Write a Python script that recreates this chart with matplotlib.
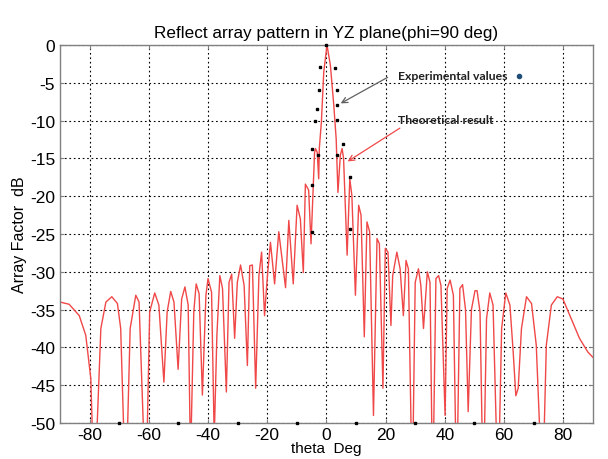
import numpy as np
import matplotlib
matplotlib.use('Agg')
import matplotlib.pyplot as plt

plt.rcParams['font.family'] = ['Liberation Sans', 'DejaVu Sans']
plt.rcParams['axes.unicode_minus'] = False

# theoretical array factor, vertices (deg, dB)
# nulls that fall below the axis are given -60 so they clip at -50
theta = [-90, -86.9, -83.5, -81.3, -79.6, -78.4, -76.2, -74.5, -72.5, -70.6,
         -69.5, -67.8, -66.3, -64.4, -63.3, -61.0, -59.7, -58.0, -56.6, -54.9,
         -53.8, -52.6, -51.5, -50.1, -48.9, -47.8, -46.7, -45.9, -44.8, -44.0,
         -43.0, -41.9, -40.7, -40.0, -38.8, -37.9, -37.0, -36.0, -35.1, -33.8,
         -32.9, -32.0, -31.0, -30.1, -29.0, -27.8, -26.7, -25.9, -25.0, -23.9,
         -22.8, -21.9, -20.9, -20.0, -18.9, -17.5, -16.1, -13.8, -12.7, -11.2,
         -9.9, -8.8, -7.8, -7.1, -6.0, -5.2, -4.0, -3.7, -3.1, -2.6,
         -2.4, -1.7, -0.9, 0.2, 1.35, 2.5, 3.3, 3.9, 4.7, 5.3,
         5.8, 7.0, 7.9, 8.6, 9.8, 10.9, 11.7, 12.8, 13.7, 14.6,
         15.9, 17.1, 17.9, 19.1, 19.9, 20.8, 21.8, 22.4, 23.8, 24.9,
         26.0, 26.9, 27.7, 29.0, 30.0, 31.1, 31.9, 32.8, 34.1, 35.0,
         35.9, 37.0, 37.9, 38.7, 40.1, 40.8, 41.8, 42.9, 44.0, 45.1,
         46.0, 47.0, 47.9, 49.0, 50.2, 50.9, 51.9, 53.0, 54.1, 55.2,
         56.3, 58.0, 59.2, 60.6, 62.0, 63.1, 64.0, 64.8, 65.9, 67.6,
         69.3, 70.9, 73.0, 74.3, 76.0, 78.0, 79.9, 82.7, 85.5, 88.3, 90]
af_db = [-34.0, -34.3, -35.8, -38.4, -44.1, -60, -37.5, -34.0, -33.3, -34.2,
         -37.5, -60, -37.5, -33.1, -34.0, -60, -35.3, -32.8, -34.4, -44.6,
         -35.3, -32.6, -34.0, -42.9, -33.6, -32.0, -34.4, -55, -35.3, -31.6,
         -32.9, -46.3, -33.1, -30.9, -32.7, -52, -38.4, -30.5, -32.2, -45.9,
         -31.4, -30.3, -38.8, -31.4, -29.1, -31.8, -42.4, -29.2, -29.1, -45.4,
         -30.5, -27.4, -35.8, -30.9, -26.1, -31.6, -24.7, -32.1, -23.2, -31.6,
         -21.2, -23.0, -30.1, -18.4, -19.2, -26.3, -14.2, -13.7, -14.2, -17.7,
         -13.7, -10.2, -3.6, 0.0, -2.7, -8.0, -12.4, -19.5, -14.6, -13.7,
         -15.0, -27.8, -17.7, -19.9, -33.1, -21.2, -22.5, -38.6, -23.4, -24.7,
         -49.0, -25.6, -26.3, -45.4, -26.9, -27.4, -37.1, -30.5, -27.4, -29.6,
         -35.8, -28.5, -29.6, -60, -31.4, -29.6, -31.8, -37.5, -30.0, -31.4,
         -60, -30.9, -30.5, -31.8, -49.0, -32.2, -31.1, -33.1, -60, -32.2,
         -31.7, -35.0, -48.5, -35.0, -32.5, -32.5, -35.3, -60, -36.2, -32.8,
         -34.4, -60, -37.5, -32.8, -34.4, -40.6, -46.4, -45.4, -37.5, -33.3,
         -34.2, -39.7, -60, -39.7, -34.4, -33.3, -33.6, -36.2, -38.8, -40.6, -41.3]

# measured points
exp_theta = [-0.1, -2.0, 2.8, -2.4, 3.6, -3.1, 3.6, -3.7, 3.5, -4.8, 5.6,
             -2.9, 3.7, -5.0, 7.9, -5.0, 7.9,
             -70, -50, -30, -10, 10, 30, 50, 70]
exp_db = [0.0, -2.9, -3.0, -5.9, -6.0, -8.5, -7.9, -10.0, -9.9, -13.8, -13.1,
          -14.5, -14.5, -18.5, -17.5, -24.7, -24.4,
          -50, -50, -50, -50, -50, -50, -50, -50]

x_ticks = np.arange(-80, 81, 20)
y_ticks = np.arange(-50, 1, 5)

fig = plt.figure(figsize=(6.08, 4.6), dpi=100)
ax = fig.add_axes([0.0987, 0.0783, 0.8763, 0.8217])

ax.plot(theta, af_db, color='#f04848', lw=1.0)
ax.plot(exp_theta, exp_db, 's', color='black', ms=1.5, clip_on=False, zorder=5)

ax.set_xlim(-90, 90)
ax.set_ylim(-50, 0)
ax.set_xticks(x_ticks)
ax.set_yticks(y_ticks)
ax.grid(True, color='black', linestyle=(0, (1.5, 2.5)), lw=0.8)
ax.tick_params(direction='in', top=True, right=True, labelsize=12.5, length=3,
               color='#808080')
ax.tick_params(axis='x', pad=3)
for s in ax.spines.values():
    s.set_color('#808080')
    s.set_linewidth(1.0)

ax.set_title('Reflect array pattern in YZ plane(phi=90 deg)', fontsize=12.3, pad=6)
ax.set_ylabel('Array Factor  dB', fontsize=11.5, labelpad=2)
ax.set_xlabel('theta  Deg', fontsize=11, labelpad=-1)

ax.annotate('', xy=(4.0, -7.9), xytext=(21.5, -4.1),
            arrowprops=dict(arrowstyle='->', color='#606060', lw=0.9))
ax.annotate('', xy=(6.4, -15.6), xytext=(25.6, -10.8),
            arrowprops=dict(arrowstyle='->', color='#f04848', lw=0.9))
ax.text(24.2, -4.1, 'Experimental values', fontsize=8.8, fontweight='bold',
        family='Lato', va='center', color='#202020')
ax.plot([65.0], [-4.1], 'o', color='#1f4e79', ms=3)
ax.text(24.2, -9.9, 'Theoretical result', fontsize=8.8, fontweight='bold',
        family='Lato', va='center', color='#202020')

fig.savefig('out.png', dpi=100)
